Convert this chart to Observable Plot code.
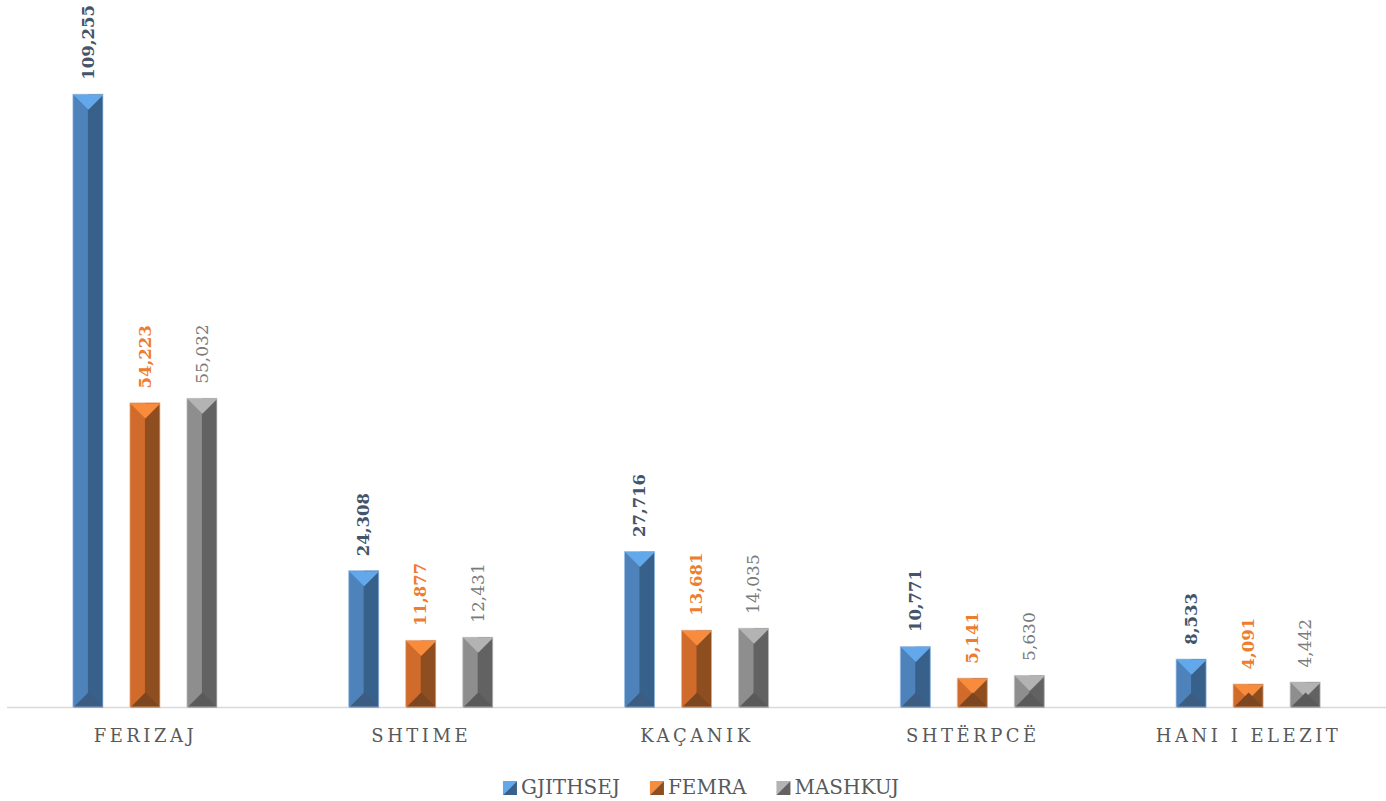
<!DOCTYPE html>
<html><head><meta charset="utf-8">
<script src="https://cdn.jsdelivr.net/npm/d3@7"></script>
<script src="https://cdn.jsdelivr.net/npm/@observablehq/plot@0.6"></script>
<style>
body{margin:0;background:#fff;}
#chart svg [aria-label*="fx-axis"] text{letter-spacing:3.5px;font-size:18px;fill:#595959;}
#legend{display:block;}
</style>
</head><body>
<div id="chart"></div>
<svg id="legend" width="1386" height="41"></svg>
<script>
// ---- data ----
const places = ["FERIZAJ", "SHTIME", "KAÇANIK", "SHTËRPCË", "HANI I ELEZIT"];
const series = ["GJITHSEJ", "FEMRA", "MASHKUJ"];
const gjithsej = [109255, 24308, 27716, 10771, 8533];
const femra    = [54223, 11877, 13681, 5141, 4091];
const mashkuj  = [55032, 12431, 14035, 5630, 4442];

// ---- styles ----
const FONT = "DejaVu Serif, Liberation Serif, serif";
const pal = {
  GJITHSEJ: {left:"#4d82ba", right:"#37608a", top:"#62a8ea", bottom:"#3c5c82", label:"#44546a", weight:"bold", size:16.5, edge:"#9dc0e6"},
  FEMRA:    {left:"#d06b2b", right:"#8f4e1f", top:"#f88c3c", bottom:"#7c4620", label:"#ed7d31", weight:"bold", size:16.5, edge:"#f2b48a"},
  MASHKUJ:  {left:"#8e8e8e", right:"#626262", top:"#b3b3b3", bottom:"#5a5a5a", label:"#7a7a7a", weight:"normal", size:17, edge:"#c8c8c8"}
};

const W = 1386, H = 760, ML = 7, MR = 0, MT = 34, MB = 53;
const PI = 0.4737, PO = 1.156;
const fxBw = (W - ML - MR) / places.length;
const barW = fxBw / (series.length - PI + 2 * PO) * (1 - PI);
const half = barW / 2;

const valuesBySeries = {GJITHSEJ: gjithsej, FEMRA: femra, MASHKUJ: mashkuj};
const data = places.flatMap((p, i) => series.map(s => ({place: p, series: s, value: valuesBySeries[s][i]})));

const topTri = {draw(ctx) { ctx.moveTo(-half, 0); ctx.lineTo(half, 0); ctx.lineTo(0, half); ctx.closePath(); }};
const botTri = {draw(ctx) { ctx.moveTo(-half, 0); ctx.lineTo(half, 0); ctx.lineTo(0, -half); ctx.closePath(); }};

const fmt = d3.format(",");

const textMarks = series.map(s => Plot.text(data.filter(d => d.series === s), {
  fx: "place", x: "series", y: "value", text: d => fmt(d.value),
  rotate: -90, textAnchor: "start", dy: -15,
  fill: pal[s].label, fontWeight: pal[s].weight, fontSize: pal[s].size, fontFamily: FONT
}));

const chart = Plot.plot({
  width: W, height: H,
  marginLeft: ML, marginRight: MR, marginTop: MT, marginBottom: MB,
  style: {fontFamily: FONT, fontSize: "18px", color: "#595959", background: "#fff", overflow: "visible"},
  color: {type: "identity"},
  fx: {domain: places, padding: 0, round: false, axis: "bottom", tickSize: 0, tickPadding: 22, label: null},
  x: {domain: series, paddingInner: PI, paddingOuter: PO, round: false, axis: null},
  y: {domain: [0, 120000], axis: null},
  marks: [
    Plot.ruleY([0], {stroke: "#d9d9d9", strokeWidth: 1.5}),
    Plot.barY(data, {fx: "place", x: "series", y: "value", fill: d => pal[d.series].left}),
    Plot.barY(data, {fx: "place", x: "series", y: "value", fill: d => pal[d.series].right, insetLeft: half}),
    Plot.dot(data, {fx: "place", x: "series", y: "value", symbol: topTri, r: 5, fill: d => pal[d.series].top, stroke: null}),
    Plot.dot(data, {fx: "place", x: "series", y: () => 0, symbol: botTri, r: 5, fill: d => pal[d.series].bottom, stroke: null}),
    Plot.barY(data, {fx: "place", x: "series", y: "value", fill: "none", stroke: d => pal[d.series].edge, strokeWidth: 1, strokeOpacity: 0.7}),
    ...textMarks
  ]
});
document.getElementById("chart").appendChild(chart);

// ---- legend (SVG, laid out from measured text widths, centred) ----
const leg = d3.select("#legend");
const SW = 14, GAP_IN = 4, GAP_OUT = 30;
const items = series.map(s => {
  const g = leg.append("g");
  g.append("path").attr("d", `M0,21H${SW}L0,${21 + SW}Z`).attr("fill", pal[s].top);
  g.append("path").attr("d", `M${SW},21V${21 + SW}H0Z`).attr("fill", pal[s].right);
  const t = g.append("text").attr("x", SW + GAP_IN).attr("y", 34)
    .attr("font-family", FONT).attr("font-size", 20).attr("fill", "#595959").text(s);
  return {g, w: SW + GAP_IN + t.node().getComputedTextLength()};
});
const total = d3.sum(items, d => d.w) + GAP_OUT * (items.length - 1);
let x0 = (W - total) / 2 + 8;
items.forEach(it => { it.g.attr("transform", `translate(${x0},0)`); x0 += it.w + GAP_OUT; });
</script>
</body></html>
